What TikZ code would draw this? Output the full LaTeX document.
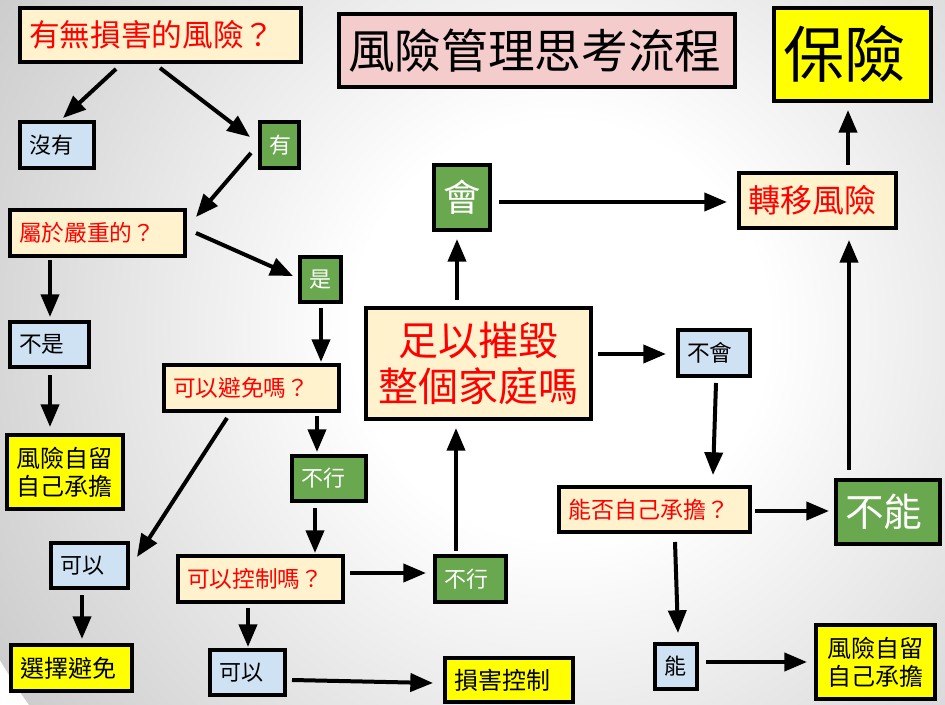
\documentclass[tikz,border=0pt]{standalone}
\usepackage{fontspec}
\setmainfont{Noto Sans CJK TC}
\usetikzlibrary{arrows.meta,calc}
\definecolor{cream}{HTML}{FFF2CC}
\definecolor{lblue}{HTML}{CFE2F3}
\definecolor{dgreen}{HTML}{6AA84F}
\definecolor{pinkbox}{HTML}{F4CCCC}
\definecolor{ybox}{HTML}{FFFF00}
\definecolor{bgout}{HTML}{CDCDCD}
\pgfdeclareradialshading{bgshade}{\pgfpoint{0bp}{0bp}}{color(0bp)=(white); color(8bp)=(white); color(25bp)=(bgout); color(50bp)=(bgout)}
\tikzset{
  bx/.style={draw=black, line width=3pt, inner sep=0pt, inner xsep=6.75pt, align=left},
  sz/.style n args={3}{minimum width=#1pt, minimum height=#2pt, text width=#3pt},
  cbox/.style={bx, fill=cream, text=red},
  bbox/.style={bx, fill=lblue, text=black},
  gbox/.style={bx, fill=dgreen, text=white},
  yelbox/.style={bx, fill=ybox, text=black},
  pbox/.style={bx, fill=pinkbox, text=black},
  arr/.style={line width=3pt, -{Triangle[length=17pt,width=13.5pt]}},
}
\newcommand{\fs}[2]{\fontsize{#1pt}{#2pt}\selectfont}
\begin{document}
\begin{tikzpicture}[x=0.75pt,y=-0.75pt]
\useasboundingbox (0,0) rectangle (945,705);
\begin{scope}
\clip (0,0) rectangle (945,705);
\shade[shading=bgshade] (560,330) circle (650);
\end{scope}

% nodes
\node[cbox, sz={210.75}{40.5}{197.25}, font=\fs{23}{27}] (A) at (160.5,35) {有無損害的風險？};
\node[bbox, sz={55.5}{34.5}{42}, font=\fs{16.5}{20}] (B) at (57,145) {沒有};
\node[gbox, sz={29.25}{34.5}{15.75}, font=\fs{16.5}{20}] (C) at (279.5,145) {有};
\node[cbox, sz={131.25}{34.5}{117.75}, font=\fs{17}{20}] (D) at (97.5,233) {屬於嚴重的？};
\node[gbox, sz={30.75}{33.75}{17.25}, font=\fs{16.5}{20}] (E) at (320.5,279.5) {是};
\node[bbox, sz={59.25}{33.75}{45.75}, font=\fs{17}{20}] (F) at (49.5,344.5) {不是};
\node[cbox, sz={131.25}{34.5}{117.75}, font=\fs{17}{20}] (G) at (251.5,388) {可以避免嗎？};
\node[yelbox, sz={87}{55.5}{73.5}, align=center, font=\fs{18}{21}] (H) at (65,472) {風險自留\\自己承擔};
\node[gbox, sz={55.5}{33.75}{42}, font=\fs{16.5}{20}] (I) at (329,478.5) {不行};
\node[bbox, sz={57.75}{33.75}{44.25}, font=\fs{16.5}{20}] (J) at (89.5,565.5) {可以};
\node[cbox, sz={123.75}{34.5}{110.25}, font=\fs{17}{20}] (K) at (260.5,579) {可以控制嗎？};
\node[yelbox, sz={90.75}{34.5}{77.25}, font=\fs{18}{21}] (L) at (71.5,668) {選擇避免};
\node[bbox, sz={56.25}{33.75}{42.75}, font=\fs{16.5}{20}] (M) at (247.5,672.5) {可以};
\node[yelbox, sz={96}{33}{82.5}, font=\fs{18}{21}] (N) at (509,680) {損害控制};
\node[gbox, sz={53.25}{34.5}{39.75}, font=\fs{16.5}{20}] (O) at (470.5,579) {不行};
\node[cbox, sz={168.75}{83.25}{155.25}, align=center, font=\fs{30}{35}] (P) at (478.5,363.5) {足以摧毀\\整個家庭嗎};
\node[gbox, sz={42}{48.75}{28.5}, align=center, font=\fs{28}{32}] (Q) at (462,197.5) {會};
\node[cbox, sz={117.75}{41.25}{104.25}, font=\fs{24}{28}] (R) at (817.5,200.5) {轉移風險};
\node[yelbox, sz={117.75}{69.75}{104.25}, font=\fs{46}{52}] (S) at (852.5,54.5) {保險};
\node[bbox, sz={54}{34.5}{40.5}, font=\fs{17}{20}] (T) at (714,353) {不會};
\node[cbox, sz={143.25}{33.75}{129.75}, font=\fs{17.25}{20}] (U) at (654.5,509.5) {能否自己承擔？};
\node[gbox, sz={78}{48}{64.5}, font=\fs{29}{33}] (V) at (888,512) {不能};
\node[bbox, sz={31.5}{33.75}{18}, font=\fs{16.5}{20}] (W) at (676,666.5) {能};
\node[yelbox, sz={89.25}{55.5}{75.75}, align=center, font=\fs{18}{21}] (X) at (875.5,662) {風險自留\\自己承擔};
\node[pbox, sz={297}{54.75}{283.5}, font=\fs{35}{40}] (Z) at (537,50.5) {風險管理思考流程};

% connectors
\draw[arr] ($(A)+(-44.5,34)$) -- ($(B)+(6,-27)$);
\draw[arr] ($(A)+(-0.5,33)$) -- ($(C)+(-29.5,-8)$);
\draw[arr] ($(C)+(-28.5,8)$) -- ($(D)+(98.5,-16)$);
\draw[arr] ($(D)+(98.5,0)$) -- ($(E)+(-27.5,-3.5)$);
\draw[arr] ($(D)+(-47.5,27)$) -- ($(F)+(0.5,-27.5)$);
\draw[arr] ($(F)+(0.5,30.5)$) -- ($(H)+(-15,-45)$);
\draw[arr] ($(E)+(0.5,28.5)$) -- ($(G)+(69.5,-26)$);
\draw[arr] ($(G)+(-24.5,30)$) -- ($(J)+(47.5,-8.5)$);
\draw[arr] ($(G)+(65.5,28)$) -- ($(I)+(-12,-26.5)$);
\draw[arr] ($(J)+(-7.5,29.5)$) -- ($(L)+(10.5,-29)$);
\draw[arr] ($(I)+(-14,29.5)$) -- ($(K)+(54.5,-26)$);
\draw[arr] ($(K)+(-12.5,29)$) -- ($(M)+(0.5,-25.5)$);
\draw[arr] ($(K)+(89.5,-6)$) -- ($(O)+(-44.5,-6)$);
\draw[arr] ($(M)+(44.5,7.5)$) -- ($(N)+(-76,3)$);
\draw[arr] ($(O)+(-14.5,-28)$) -- ($(P)+(-22.5,64.5)$);
\draw[arr] ($(P)+(-21.5,-63.5)$) -- ($(Q)+(-5,41.5)$);
\draw[arr] ($(Q)+(37,4.5)$) -- ($(R)+(-90.5,1.5)$);
\draw[arr] ($(R)+(30.5,-35.5)$) -- ($(S)+(-4.5,55.5)$);
\draw[arr] ($(P)+(119.5,-9.5)$) -- ($(T)+(-48,1)$);
\draw[arr] ($(T)+(2,30)$) -- ($(U)+(58.5,-34.5)$);
\draw[arr] ($(U)+(100.5,1.5)$) -- ($(V)+(-59,-1)$);
\draw[arr] ($(V)+(-39,-42)$) -- ($(R)+(31.5,39.5)$);
\draw[arr] ($(U)+(20.5,32.5)$) -- ($(W)+(2,-33.5)$);
\draw[arr] ($(W)+(30,-4.5)$) -- ($(X)+(-68.5,0)$);
\end{tikzpicture}
\end{document}
